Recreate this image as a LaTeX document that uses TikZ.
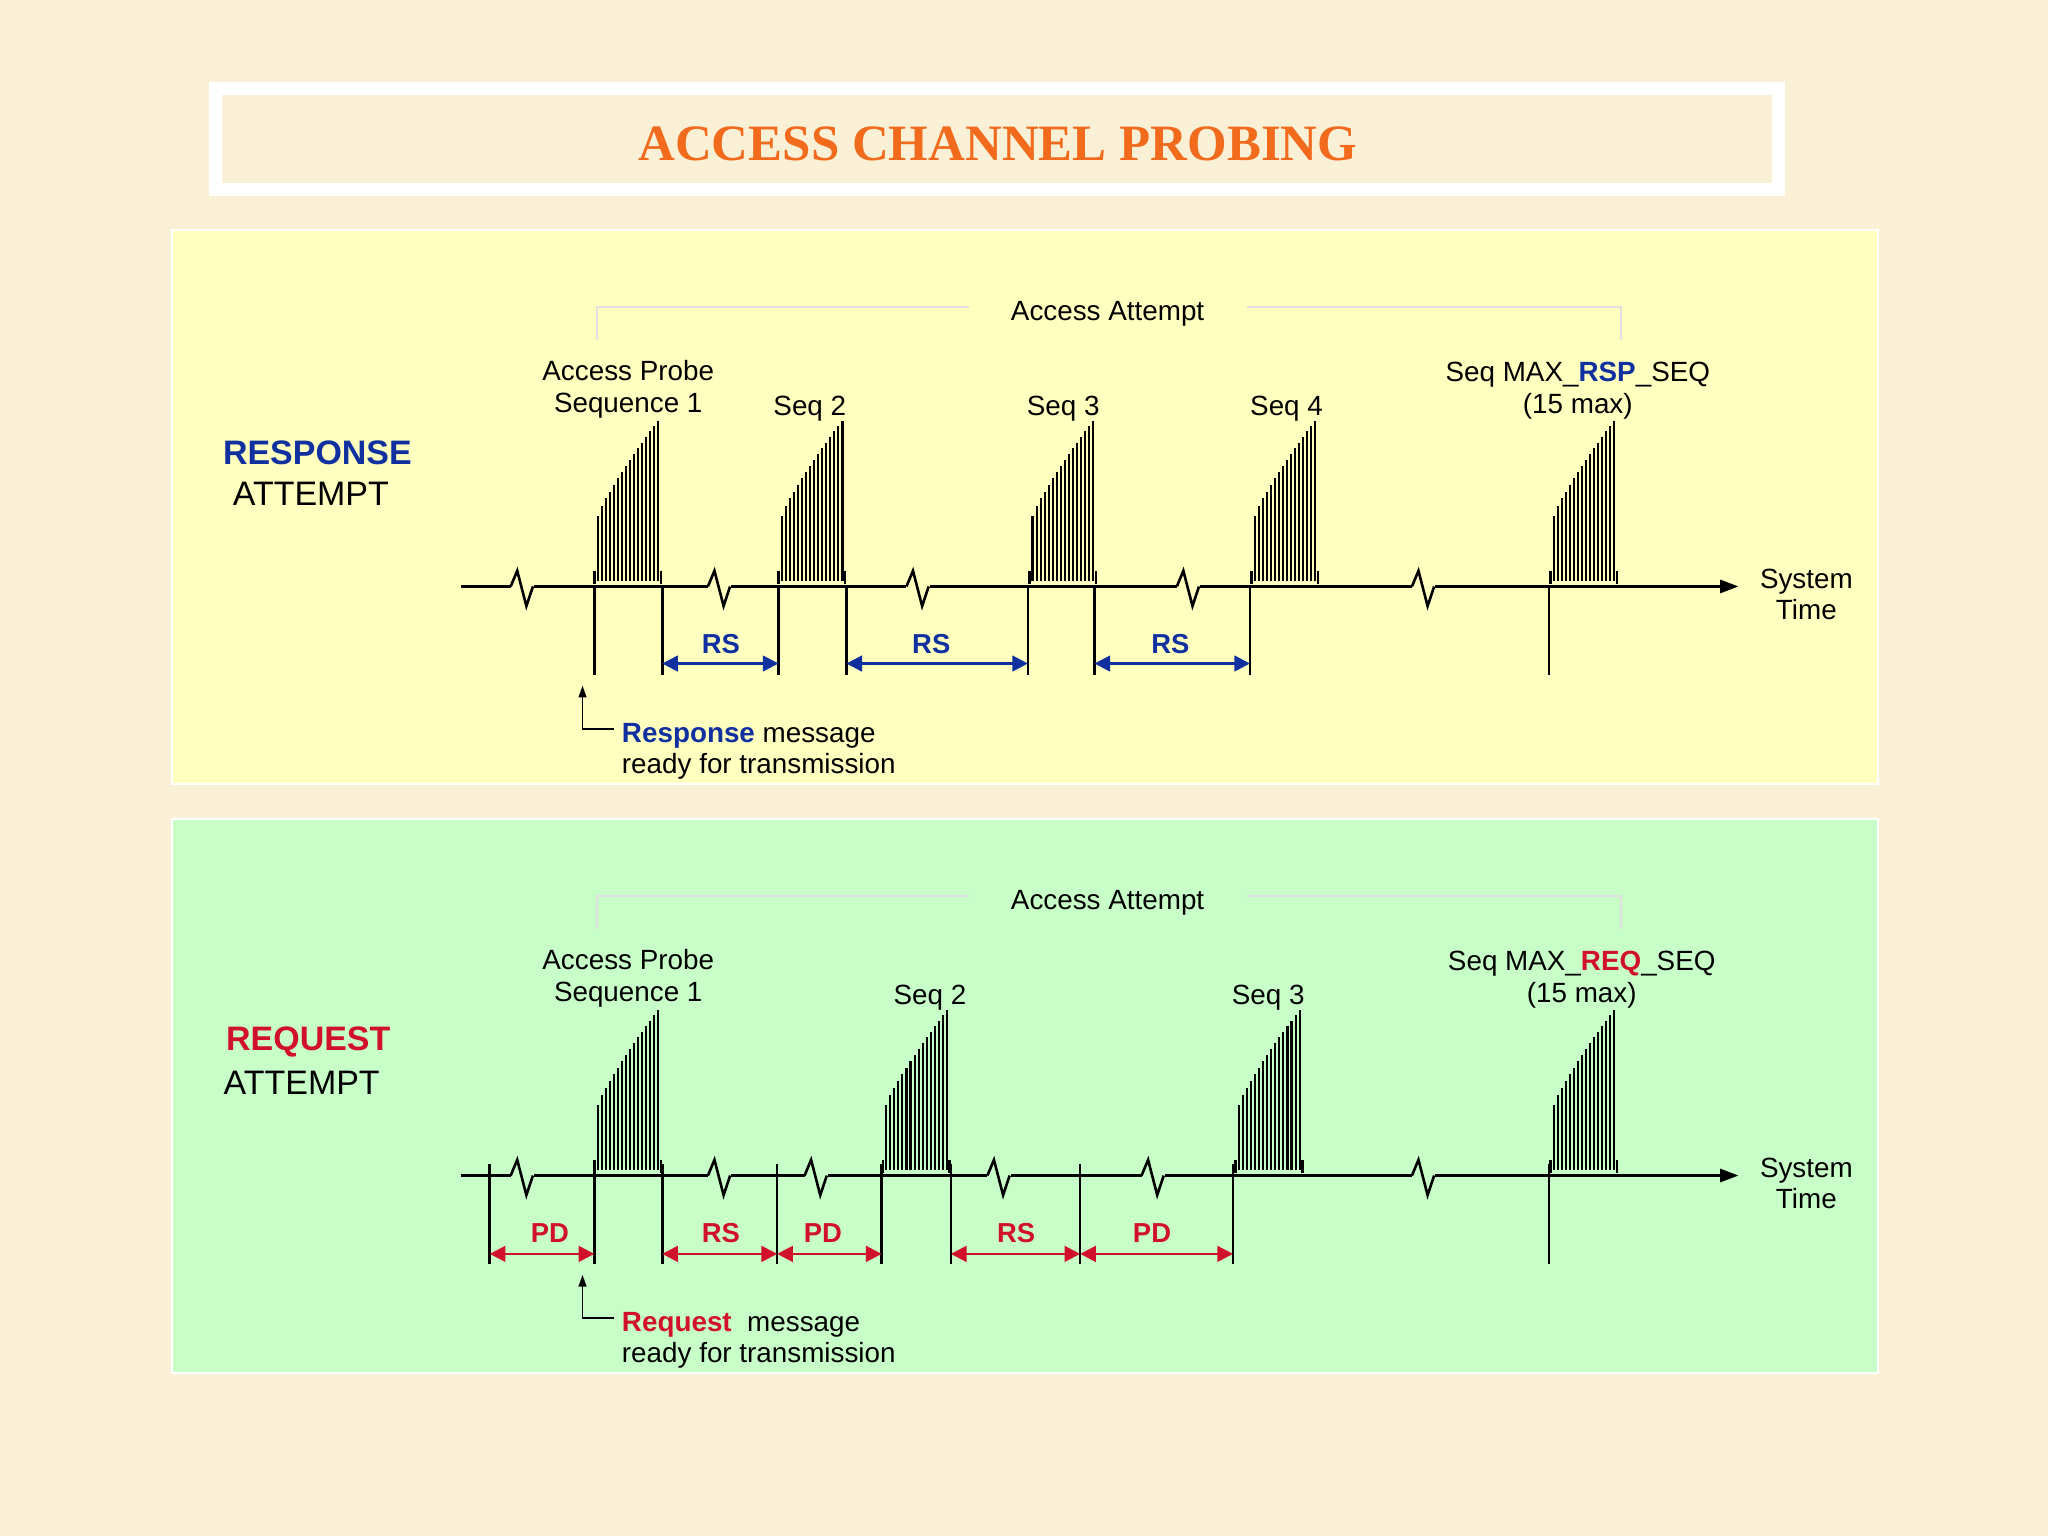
\documentclass[tikz,border=0pt]{standalone}
\usepackage{fontspec}
\setmainfont{Liberation Sans}
\newfontfamily\titlefont{Liberation Serif}
\usetikzlibrary{arrows.meta}
\definecolor{bg}{HTML}{FAF0D6}
\definecolor{pyel}{HTML}{FFFFC0}
\definecolor{pgrn}{HTML}{C8FFC8}
\definecolor{tblue}{HTML}{1030A0}
\definecolor{tred}{HTML}{D0102C}
\definecolor{torange}{HTML}{F26B1D}
\tikzset{
  axisline/.style={line width=2pt,-{Triangle[length=14pt,width=10pt]}},
  tick/.style={line width=2pt},
  lbl/.style={font=\fontsize{21.3}{24}\selectfont,align=center,inner sep=0pt},
  bigl/.style={font=\fontsize{26}{28}\selectfont,inner sep=0pt},
  span/.style={line width=2pt,{Triangle[length=12pt,width=12pt]}-{Triangle[length=12pt,width=12pt]}},
  spanlbl/.style={font=\bfseries\fontsize{21}{22}\selectfont,inner sep=0pt},
  brk/.style={line width=2pt,line join=miter},
  bracket/.style={line width=1.2pt,draw=black!12}
}
\newcommand{\probe}[2]{%
  \foreach \i in {0,...,15}{%
    \pgfmathsetmacro{\xx}{#1+2.5+\i*3.1}%
    \pgfmathsetmacro{\hh}{52+73*(\i/15)^0.85}%
    \draw[line width=1.6pt] (\xx,#2-2) -- (\xx,#2-\hh);
  }%
  \draw[tick] (#1,#2) -- (#1,#2-10) (#1+51,#2) -- (#1+51,#2-10);
}
\newcommand{\brkmark}[3]{%
  \fill[#3] (#1-9,#2-1.5) rectangle (#1+9,#2+1.5);
  \draw[brk] (#1-9,#2) -- (#1-4,#2-12) -- (#1+3,#2+15) -- (#1+8,#2);
}
\begin{document}
\begin{tikzpicture}[x=1pt,y=-1pt]
\useasboundingbox (0,0) rectangle (1568,1176);
\fill[bg] (0,0) rectangle (1568,1176);
% title
\draw[white,line width=10pt] (165,68) rectangle (1362,145);
\node[font=\titlefont\bfseries\fontsize{39}{41}\selectfont,text=torange] (title) at (764,110) {ACCESS CHANNEL PROBING};
% panels
\draw[white,line width=1.5pt,fill=pyel] (132,176) rectangle (1438,600);
\draw[white,line width=1.5pt,fill=pgrn] (132,627) rectangle (1438,1051);

%%%%%%%% RESPONSE panel
\begin{scope}
\draw[bracket] (457,260) -- (457,235) -- (742,235);
\draw[bracket] (955,235) -- (1241,235) -- (1241,260);
\node[lbl] (aa1) at (848,240) {Access Attempt};
\node[bigl,text=tblue,font=\bfseries\fontsize{26}{28}\selectfont] (resp) at (243,347) {RESPONSE};
\node[bigl] (att1) at (238,378) {ATTEMPT};
\node[lbl] (l11) at (481,298) {Access Probe\\Sequence 1};
\node[lbl] (l12) at (620,313) {Seq 2};
\node[lbl] (l13) at (814,313) {Seq 3};
\node[lbl] (l14) at (985,313) {Seq 4};
\node[lbl] (l15) at (1208,299) {Seq MAX\_\textcolor{tblue}{\bfseries RSP}\_SEQ\\(15 max)};
\node[lbl,align=center] (st1) at (1383,455) {System\\Time};
\coordinate (a1s) at (353,449);
\coordinate (a1e) at (1331,449);
\draw[axisline] (a1s) -- (a1e);
\foreach \x in {400,551,703,910,1090} {\brkmark{\x}{449}{pyel}}
\foreach \x in {455,596,788,958,1187} {\probe{\x}{447}}
\foreach \x in {455,507,596,648,787,838,957,1186} {\draw[tick] (\x,449) -- (\x,517);}
\coordinate (r1a) at (507,508); \coordinate (r1b) at (596,508);
\coordinate (r2a) at (648,508); \coordinate (r2b) at (787,508);
\coordinate (r3a) at (838,508); \coordinate (r3b) at (957,508);
\draw[span,draw=tblue,fill=tblue] (r1a) -- (r1b);
\draw[span,draw=tblue,fill=tblue] (r2a) -- (r2b);
\draw[span,draw=tblue,fill=tblue] (r3a) -- (r3b);
\node[spanlbl,text=tblue] (rs1) at (552,493) {RS};
\node[spanlbl,text=tblue] (rs2) at (713,493) {RS};
\node[spanlbl,text=tblue] (rs3) at (896,493) {RS};
\coordinate (up1) at (446,525);
\draw[line width=1.3pt,-{Triangle[length=9pt,width=6pt]}] (470,558) -- (446,558) -- (up1);
\node[lbl,anchor=west,align=left] (msg1) at (476,575) {\textcolor{tblue}{\bfseries Response} message\\ready for transmission};
\end{scope}

%%%%%%%% REQUEST panel
\begin{scope}
\draw[bracket] (457,711) -- (457,686) -- (742,686);
\draw[bracket] (955,686) -- (1241,686) -- (1241,711);
\node[lbl] (aa2) at (848,691) {Access Attempt};
\node[bigl,text=tred,font=\bfseries\fontsize{26}{28}\selectfont] (req) at (236,798) {REQUEST};
\node[bigl] (att2) at (231,829) {ATTEMPT};
\node[lbl] (l21) at (481,749) {Access Probe\\Sequence 1};
\node[lbl] (l22) at (712,764) {Seq 2};
\node[lbl] (l23) at (971,764) {Seq 3};
\node[lbl] (l25) at (1211,750) {Seq MAX\_\textcolor{tred}{\bfseries REQ}\_SEQ\\(15 max)};
\node[lbl,align=center] (st2) at (1383,906) {System\\Time};
\coordinate (a2s) at (353,900);
\coordinate (a2e) at (1331,900);
\draw[axisline] (a2s) -- (a2e);
\foreach \x in {400,551,625,765,883,1090} {\brkmark{\x}{900}{pgrn}}
\foreach \x in {455,676,946,1187} {\probe{\x}{898}}
\foreach \x in {375,455,507,595,675,728,827,944,1186} {\draw[tick] (\x,891) -- (\x,968);}
\coordinate (p1a) at (375,960); \coordinate (p1b) at (455,960);
\coordinate (s1a) at (507,960); \coordinate (s1b) at (595,960);
\coordinate (p2a) at (595,960); \coordinate (p2b) at (675,960);
\coordinate (s2a) at (728,960); \coordinate (s2b) at (827,960);
\coordinate (p3a) at (827,960); \coordinate (p3b) at (944,960);
\foreach \a/\b in {p1a/p1b,s1a/s1b,p2a/p2b,s2a/s2b,p3a/p3b} {\draw[span,draw=tred,fill=tred] (\a) -- (\b);}
\node[spanlbl,text=tred] (pd1) at (421,944) {PD};
\node[spanlbl,text=tred] (rs4) at (552,944) {RS};
\node[spanlbl,text=tred] (pd2) at (630,944) {PD};
\node[spanlbl,text=tred] (rs5) at (778,944) {RS};
\node[spanlbl,text=tred] (pd3) at (882,944) {PD};
\coordinate (up2) at (446,976);
\draw[line width=1.3pt,-{Triangle[length=9pt,width=6pt]}] (470,1009) -- (446,1009) -- (up2);
\node[lbl,anchor=west,align=left] (msg2) at (476,1026) {\textcolor{tred}{\bfseries Request}\ \ message\\ready for transmission};
\end{scope}
\end{tikzpicture}
\end{document}
